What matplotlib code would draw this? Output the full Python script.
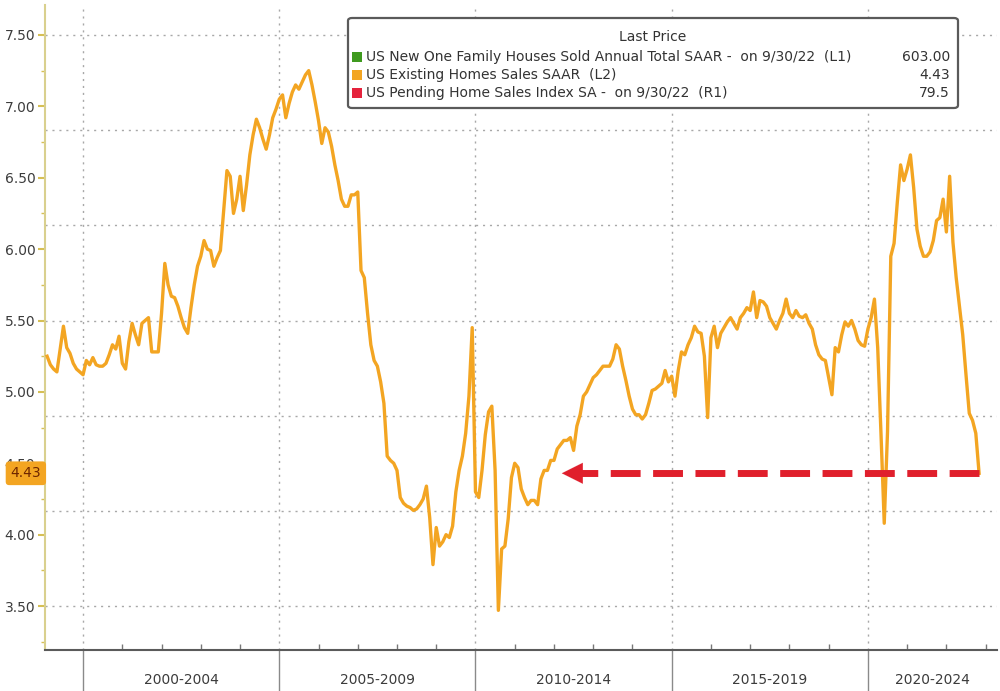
import numpy as np
import matplotlib
matplotlib.use('Agg')
import matplotlib.pyplot as plt
from matplotlib.patches import FancyBboxPatch, Rectangle
from matplotlib.transforms import blended_transform_factory
from matplotlib.ticker import MultipleLocator, FixedLocator, NullFormatter

plt.rcParams['font.family'] = ['DejaVu Sans']

# ---------------------------
# data: US existing home sales SAAR (millions), monthly from Jan 1999
# ---------------------------
start_year = 1999
existing_sales = [
    5.25, 5.19, 5.16, 5.14, 5.30, 5.46, 5.31, 5.27, 5.20, 5.16, 5.14, 5.12,  # 1999
    5.22, 5.19, 5.24, 5.19, 5.18, 5.18, 5.20, 5.26, 5.33, 5.30, 5.39, 5.20,  # 2000
    5.16, 5.35, 5.48, 5.40, 5.33, 5.48, 5.50, 5.52, 5.28, 5.28, 5.28, 5.55,  # 2001
    5.90, 5.75, 5.67, 5.66, 5.60, 5.52, 5.45, 5.41, 5.59, 5.75, 5.88, 5.95,  # 2002
    6.06, 6.00, 5.99, 5.88, 5.94, 5.99, 6.27, 6.55, 6.51, 6.25, 6.35, 6.51,  # 2003
    6.27, 6.45, 6.66, 6.80, 6.91, 6.85, 6.77, 6.70, 6.80, 6.92, 6.98, 7.05,  # 2004
    7.08, 6.92, 7.02, 7.10, 7.15, 7.12, 7.17, 7.22, 7.25, 7.15, 7.03, 6.90,  # 2005
    6.74, 6.85, 6.82, 6.72, 6.59, 6.48, 6.35, 6.30, 6.30, 6.38, 6.38, 6.40,  # 2006
    5.85, 5.80, 5.55, 5.33, 5.22, 5.18, 5.07, 4.92, 4.55, 4.52, 4.50, 4.45,  # 2007
    4.26, 4.22, 4.20, 4.19, 4.17, 4.18, 4.21, 4.25, 4.34, 4.12, 3.79, 4.05,  # 2008
    3.92, 3.95, 4.00, 3.98, 4.06, 4.30, 4.45, 4.55, 4.71, 4.97, 5.45, 4.30,  # 2009
    4.26, 4.45, 4.70, 4.86, 4.90, 4.45, 3.47, 3.90, 3.92, 4.11, 4.40, 4.50,  # 2010
    4.47, 4.32, 4.26, 4.21, 4.24, 4.24, 4.21, 4.39, 4.45, 4.45, 4.52, 4.52,  # 2011
    4.60, 4.63, 4.66, 4.66, 4.68, 4.59, 4.76, 4.84, 4.97, 5.00, 5.05, 5.10,  # 2012
    5.12, 5.15, 5.18, 5.18, 5.18, 5.23, 5.33, 5.30, 5.18, 5.08, 4.97, 4.88,  # 2013
    4.84, 4.84, 4.81, 4.84, 4.92, 5.01, 5.02, 5.04, 5.06, 5.15, 5.07, 5.11,  # 2014
    4.97, 5.15, 5.28, 5.26, 5.33, 5.38, 5.46, 5.42, 5.41, 5.25, 4.82, 5.38,  # 2015
    5.46, 5.31, 5.41, 5.45, 5.49, 5.52, 5.48, 5.44, 5.52, 5.55, 5.59, 5.57,  # 2016
    5.70, 5.52, 5.64, 5.63, 5.60, 5.52, 5.48, 5.44, 5.50, 5.55, 5.65, 5.55,  # 2017
    5.52, 5.57, 5.53, 5.52, 5.54, 5.48, 5.44, 5.33, 5.26, 5.23, 5.22, 5.10,  # 2018
    4.98, 5.31, 5.28, 5.40, 5.49, 5.46, 5.50, 5.44, 5.36, 5.33, 5.32, 5.44,  # 2019
    5.52, 5.65, 5.31, 4.71, 4.08, 4.72, 5.95, 6.04, 6.33, 6.59, 6.48, 6.56,  # 2020
    6.66, 6.43, 6.14, 6.02, 5.95, 5.95, 5.98, 6.06, 6.20, 6.22, 6.35, 6.12,  # 2021
    6.51, 6.05, 5.80, 5.60, 5.40, 5.12, 4.85, 4.80, 4.71, 4.43,              # 2022
]
last_value = 4.43

period_starts = [2000, 2005, 2010, 2015, 2020]
period_labels = ['2000-2004', '2005-2009', '2010-2014', '2015-2019', '2020-2024']
y_ticks = [3.5, 4.0, 4.5, 5.0, 5.5, 6.0, 6.5, 7.0, 7.5]
r1_ticks = [70, 80, 90, 100, 110, 120, 130]   # hidden right axis, gives the grid

legend_title = 'Last Price'
legend_names = ['US New One Family Houses Sold Annual Total SAAR -  on 9/30/22  (L1)',
                'US Existing Homes Sales SAAR  (L2)',
                'US Pending Home Sales Index SA -  on 9/30/22  (R1)']
legend_values = ['603.00', '4.43', '79.5']
legend_colors = ['#3f9a1f', '#f3a522', '#e5233d']

arrow_tip_year = 2012.2

# ---------------------------
# figure
# ---------------------------
months = np.arange(len(existing_sales))
t = start_year + (months + 1) / 12.0

fig = plt.figure(figsize=(10, 6.91), dpi=100)
ax = fig.add_axes([0.045, 0.0593, 0.952, 0.9335])
ax2 = ax.twinx()

ax.set_xlim(1999.03, 2023.29)
ax.set_ylim(3.192, 7.71)
ax2.set_ylim(65.38, 133.15)

# hidden right axis only for the horizontal grid
ax2.set_yticks(r1_ticks)
ax2.tick_params(axis='y', length=0, labelright=False)
ax2.grid(axis='y', color='#a8a8a8', lw=1.0, ls=(0, (1.5, 3.5)))
for s in ax2.spines.values():
    s.set_visible(False)
ax.set_zorder(ax2.get_zorder() + 1)
ax.patch.set_visible(False)

# series
ax.plot(t, existing_sales, color='#f3a522', lw=2.4, zorder=3, solid_joinstyle='round')

# red dashed arrow back to the 2012 level
ax.plot([t[-1], arrow_tip_year + 0.5], [last_value, last_value], color='#e01f2c', lw=5,
        dashes=(4.3, 1.8), solid_capstyle='butt', zorder=4)
ax.annotate('', xy=(arrow_tip_year, last_value), xytext=(arrow_tip_year + 0.55, last_value),
            arrowprops=dict(arrowstyle='-|>,head_length=1.5,head_width=0.75',
                            color='#e01f2c', lw=0.1, shrinkA=0, shrinkB=0), zorder=4)

# y axis
ax.set_yticks(y_ticks)
ax.set_yticklabels(['%.2f' % v for v in y_ticks])
ax.yaxis.set_minor_locator(MultipleLocator(0.25))
ax.tick_params(axis='y', which='major', direction='out', length=5, width=1.5,
               color='#d6bf55', labelsize=10, labelcolor='#3c3c3c', pad=2)
ax.tick_params(axis='y', which='minor', direction='out', length=3, width=1,
               color='#d6bf55')

# x axis
ax.set_xticks(period_starts)
ax.xaxis.set_major_formatter(NullFormatter())
ax.xaxis.set_minor_locator(FixedLocator(range(1999, 2024)))
ax.tick_params(axis='x', which='major', direction='out', length=30, width=1, color='#8a8a8a')
ax.tick_params(axis='x', which='minor', direction='in', length=4, width=1, color='#777777')
ax.grid(axis='x', which='major', color='#a8a8a8', lw=1.0, ls=(0, (1.5, 3.5)))

ax.spines['top'].set_visible(False)
ax.spines['right'].set_visible(False)
ax.spines['left'].set_color('#d9d08e')
ax.spines['left'].set_linewidth(1.5)
ax.spines['bottom'].set_color('#5a5a5a')
ax.spines['bottom'].set_linewidth(1.5)

# period labels under the axis
trans = blended_transform_factory(ax.transData, ax.transAxes)
x_right = ax.get_xlim()[1]
for start, label in zip(period_starts, period_labels):
    mid = (start + min(start + 5, x_right)) / 2
    ax.text(mid, -0.047, label, transform=trans, ha='center', va='center',
            fontsize=10, color='#3c3c3c')

# last value tag on the left axis (covers most of the 4.50 label, as in the source)
ytrans = blended_transform_factory(ax.transAxes, ax.transData)
ax.text(-0.004, last_value, '%.2f' % last_value, transform=ytrans, ha='right', va='center',
        fontsize=10, color='#6e2600', zorder=10, clip_on=False,
        bbox=dict(boxstyle='round,pad=0.35,rounding_size=0.25', fc='#f3a522', ec='none'))

# legend box
def fx(px):
    return px / 1000.0

def fy(py):
    return 1 - py / 691.0

box = FancyBboxPatch((fx(348), fy(108)), fx(610), 90 / 691.0,
                     boxstyle='round,pad=0,rounding_size=0.004', transform=fig.transFigure,
                     fc='white', ec='#5a5a5a', lw=1.6, zorder=20)
fig.patches.append(box)
fig.text(fx(653), fy(37), legend_title, ha='center', va='center', fontsize=10,
         color='#333333', zorder=21)
for i, (name, val, col) in enumerate(zip(legend_names, legend_values, legend_colors)):
    yc = 57 + 18 * i
    sq = Rectangle((fx(352), fy(yc + 5)), fx(10), 10 / 691.0, transform=fig.transFigure,
                   fc=col, ec='none', zorder=21)
    fig.patches.append(sq)
    fig.text(fx(366), fy(yc), name, ha='left', va='center', fontsize=10,
             color='#333333', zorder=21)
    fig.text(fx(950), fy(yc), val, ha='right', va='center', fontsize=10,
             color='#333333', zorder=21)

fig.savefig('out.png', dpi=100)
